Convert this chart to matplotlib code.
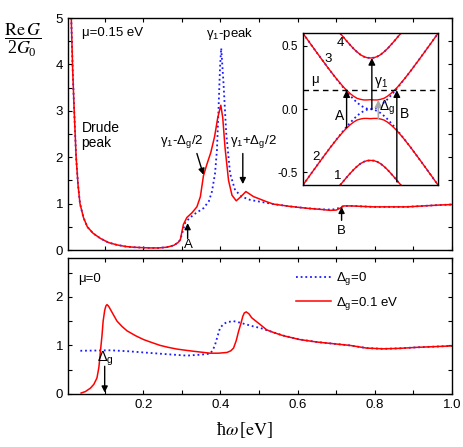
import matplotlib
matplotlib.use("Agg")
import numpy as np
import matplotlib.pyplot as plt
from matplotlib.ticker import MultipleLocator, FormatStrFormatter

plt.rcParams['font.family'] = ['Liberation Sans', 'DejaVu Sans']
plt.rcParams['mathtext.default'] = 'regular'
plt.rcParams['axes.unicode_minus'] = False

RED = '#ff0000'
BLUE = '#1a1aff'
DOT = (0, (1, 1.6))

# ---------------- data: mu = 0.15 eV (top panel) ----------------
w_top_red = [0.012, 0.014, 0.017, 0.021, 0.026, 0.031, 0.036, 0.045, 0.055, 0.07, 0.089,
             0.11, 0.132, 0.155, 0.175, 0.2, 0.218, 0.24, 0.261, 0.279, 0.29, 0.296,
             0.304, 0.313, 0.326, 0.339, 0.348, 0.356, 0.365, 0.375, 0.385, 0.393, 0.401,
             0.406, 0.412, 0.421, 0.43, 0.441, 0.453, 0.466, 0.486, 0.52, 0.537, 0.58,
             0.624, 0.667, 0.684, 0.70, 0.71, 0.719, 0.74, 0.796, 0.883, 0.969, 1.0]
g_top_red = [5.6, 4.8, 3.9, 3.0, 2.0, 1.4, 1.0, 0.7, 0.5, 0.36, 0.25,
             0.16, 0.11, 0.075, 0.06, 0.05, 0.045, 0.045, 0.06, 0.1, 0.16, 0.22,
             0.55, 0.70, 0.80, 0.93, 1.15, 1.6, 1.85, 2.1, 2.45, 2.85, 3.12,
             2.85, 2.2, 1.5, 1.18, 1.06, 1.15, 1.26, 1.15, 1.04, 0.99, 0.94,
             0.90, 0.87, 0.855, 0.86, 0.90, 0.95, 0.95, 0.93, 0.93, 0.97, 0.98]

w_top_blue = [0.012, 0.014, 0.017, 0.021, 0.026, 0.031, 0.036, 0.045, 0.055, 0.07, 0.089,
              0.11, 0.132, 0.155, 0.175, 0.2, 0.218, 0.24, 0.261, 0.279, 0.29, 0.296,
              0.304, 0.309, 0.33, 0.356, 0.37, 0.378, 0.386, 0.391, 0.395, 0.399, 0.402,
              0.408, 0.415, 0.425, 0.438, 0.455, 0.477, 0.503, 0.537, 0.58, 0.624, 0.667,
              0.69, 0.705, 0.72, 0.74, 0.796, 0.883, 0.969, 1.0]
g_top_blue = [5.6, 4.8, 3.9, 3.0, 2.0, 1.4, 1.0, 0.7, 0.5, 0.36, 0.25,
              0.16, 0.11, 0.075, 0.06, 0.05, 0.045, 0.045, 0.06, 0.1, 0.16, 0.22,
              0.45, 0.60, 0.76, 0.90, 1.05, 1.26, 1.65, 2.16, 3.02, 3.95, 4.35,
              3.59, 2.52, 1.65, 1.29, 1.15, 1.08, 1.04, 0.99, 0.94, 0.90, 0.875,
              0.87, 0.90, 0.95, 0.95, 0.93, 0.93, 0.97, 0.98]

# ---------------- data: mu = 0 (bottom panel) ----------------
w_bot_red = [0.039, 0.05, 0.063, 0.072, 0.080, 0.085, 0.089, 0.093, 0.096, 0.100, 0.103,
             0.106, 0.110, 0.115, 0.122, 0.132, 0.145, 0.158, 0.18, 0.201, 0.222, 0.244,
             0.265, 0.287, 0.31, 0.33, 0.352, 0.373, 0.395, 0.417, 0.427, 0.434, 0.441,
             0.447, 0.453, 0.458, 0.462, 0.467, 0.474, 0.481, 0.492, 0.503, 0.520, 0.54,
             0.563, 0.606, 0.65, 0.693, 0.736, 0.779, 0.822, 0.865, 0.908, 0.954, 1.0]
g_bot_red = [0.02, 0.05, 0.12, 0.2, 0.33, 0.55, 0.88, 1.2, 1.5, 1.72, 1.81,
             1.84, 1.81, 1.74, 1.64, 1.50, 1.39, 1.30, 1.2, 1.12, 1.06, 1.0,
             0.96, 0.925, 0.9, 0.88, 0.86, 0.84, 0.84, 0.855, 0.89, 0.945, 1.1,
             1.29, 1.45, 1.6, 1.67, 1.69, 1.65, 1.57, 1.5, 1.43, 1.32, 1.26,
             1.20, 1.12, 1.07, 1.035, 1.0, 0.945, 0.93, 0.94, 0.96, 0.975, 0.99]

w_bot_blue = [0.037, 0.08, 0.115, 0.16, 0.201, 0.26, 0.313, 0.35, 0.373, 0.38, 0.386,
              0.393, 0.399, 0.408, 0.417, 0.434, 0.45, 0.468, 0.486, 0.503, 0.529, 0.56,
              0.6, 0.65, 0.693, 0.736, 0.779, 0.822, 0.865, 0.908, 0.954, 1.0]
g_bot_blue = [0.89, 0.895, 0.90, 0.88, 0.855, 0.82, 0.79, 0.81, 0.83, 0.9, 1.01,
              1.2, 1.36, 1.44, 1.48, 1.50, 1.47, 1.43, 1.39, 1.36, 1.29, 1.21,
              1.13, 1.07, 1.035, 1.0, 0.945, 0.93, 0.94, 0.96, 0.975, 0.99]

# ---------------- data: inset bands ----------------
k_out = [-0.45, -0.4, -0.35, -0.3, -0.25, -0.2, -0.15, -0.1, -0.05, 0,
         0.05, 0.1, 0.15, 0.2, 0.25, 0.3, 0.35, 0.4, 0.45]
e_band4 = [0.6, 0.569, 0.537, 0.507, 0.478, 0.453, 0.431, 0.416, 0.407, 0.405,
           0.407, 0.416, 0.431, 0.453, 0.478, 0.507, 0.537, 0.569, 0.6]
e_band1 = [-0.6, -0.569, -0.537, -0.507, -0.478, -0.453, -0.431, -0.416, -0.407, -0.405,
           -0.407, -0.416, -0.431, -0.453, -0.478, -0.507, -0.537, -0.569, -0.6]

k_in = [-1, -0.9, -0.8, -0.7, -0.6, -0.5, -0.4, -0.35, -0.3, -0.25, -0.2, -0.15,
        -0.1, -0.05, 0, 0.05, 0.1, 0.15, 0.2, 0.25, 0.3, 0.35, 0.4, 0.5, 0.6,
        0.7, 0.8, 0.9, 1]
e_band3_red = [0.6, 0.525, 0.451, 0.378, 0.306, 0.238, 0.175, 0.148, 0.123, 0.102, 0.086, 0.078,
               0.073, 0.073, 0.075, 0.073, 0.073, 0.078, 0.086, 0.102, 0.123, 0.148, 0.175, 0.238, 0.306,
               0.378, 0.451, 0.525, 0.6]
e_band2_red = [-0.6, -0.525, -0.451, -0.378, -0.306, -0.238, -0.175, -0.148, -0.123, -0.102, -0.086, -0.078,
               -0.073, -0.073, -0.075, -0.073, -0.073, -0.078, -0.086, -0.102, -0.123, -0.148, -0.175, -0.238, -0.306,
               -0.378, -0.451, -0.525, -0.6]
e_band3_blue = [0.6, 0.525, 0.451, 0.378, 0.306, 0.236, 0.169, 0.137, 0.107, 0.078, 0.053, 0.031,
                0.0145, 0.0037, 0, 0.0037, 0.0145, 0.031, 0.053, 0.078, 0.107, 0.137, 0.169, 0.236, 0.306,
                0.378, 0.451, 0.525, 0.6]
e_band2_blue = [-0.6, -0.525, -0.451, -0.378, -0.306, -0.236, -0.169, -0.137, -0.107, -0.078, -0.053, -0.031,
                -0.0145, -0.0037, 0, -0.0037, -0.0145, -0.031, -0.053, -0.078, -0.107, -0.137, -0.169, -0.236, -0.306,
                -0.378, -0.451, -0.525, -0.6]
mu = 0.15

# ---------------- figure ----------------
fig = plt.figure(figsize=(4.64, 4.47), dpi=100)
ax1 = fig.add_axes([0.1466, 0.4407, 0.8274, 0.519])
ax2 = fig.add_axes([0.1466, 0.1186, 0.8274, 0.3042])
axi = fig.add_axes([0.653, 0.586, 0.291, 0.3395])


def style(ax):
    ax.tick_params(which='both', direction='in', top=True, right=True,
                   length=3, width=0.8, labelsize=9.5)
    for s in ax.spines.values():
        s.set_linewidth(1.0)


# top panel
ax1.plot(w_top_blue, g_top_blue, color=BLUE, ls=DOT, lw=1.3)
ax1.plot(w_top_red, g_top_red, color=RED, lw=1.1)
ax1.set_xlim(0.005, 1.0)
ax1.set_ylim(0, 5)
ax1.xaxis.set_major_locator(MultipleLocator(0.2))
ax1.xaxis.set_minor_locator(MultipleLocator(0.1))
ax1.yaxis.set_major_locator(MultipleLocator(1))
ax1.yaxis.set_minor_locator(MultipleLocator(0.5))
style(ax1)
ax1.tick_params(labelbottom=False)

ax1.text(0.04, 4.68, 'μ=0.15 eV', fontsize=9.5, va='center')
ax1.text(0.04, 2.46, 'Drude\npeak', fontsize=10, va='center', linespacing=1.1)
ax1.text(0.423, 4.65, r'$\gamma_1$-peak', fontsize=9.5, ha='center', va='center')
ax1.text(0.30, 2.33, r'$\gamma_1$-$\Delta_g$/2', fontsize=9.5, ha='center', va='center')
ax1.text(0.485, 2.33, r'$\gamma_1$+$\Delta_g$/2', fontsize=9.5, ha='center', va='center')
ax1.text(0.317, 0.10, 'A', fontsize=9.5, ha='center', va='center')
ax1.text(0.714, 0.40, 'B', fontsize=9.5, ha='center', va='center')

arr = dict(arrowstyle='-|>', color='k', lw=1.0, mutation_scale=9, shrinkA=0, shrinkB=0)
ax1.annotate('', xy=(0.356, 1.62), xytext=(0.339, 2.08), arrowprops=arr)
ax1.annotate('', xy=(0.458, 1.42), xytext=(0.458, 2.08), arrowprops=arr)
ax1.annotate('', xy=(0.315, 0.58), xytext=(0.315, 0.25), arrowprops=arr)
ax1.annotate('', xy=(0.714, 0.93), xytext=(0.714, 0.64), arrowprops=arr)

# bottom panel
l1, = ax2.plot(w_bot_blue, g_bot_blue, color=BLUE, ls=DOT, lw=1.3, label=r'$\Delta_g$=0')
l2, = ax2.plot(w_bot_red, g_bot_red, color=RED, lw=1.1, label=r'$\Delta_g$=0.1 eV')
ax2.set_xlim(0.005, 1.0)
ax2.set_ylim(0, 2.8)
ax2.xaxis.set_major_locator(MultipleLocator(0.2))
ax2.xaxis.set_minor_locator(MultipleLocator(0.1))
ax2.yaxis.set_major_locator(MultipleLocator(1))
ax2.yaxis.set_minor_locator(MultipleLocator(0.5))
ax2.xaxis.set_major_formatter(FormatStrFormatter('%.1f'))
style(ax2)
ax2.set_xticks([0.2, 0.4, 0.6, 0.8, 1.0])

ax2.text(0.03, 2.36, 'μ=0', fontsize=9.5, va='center')
ax2.text(0.103, 0.72, r'$\Delta_g$', fontsize=10.5, ha='center', va='center')
ax2.annotate('', xy=(0.100, 0.03), xytext=(0.100, 0.57), arrowprops=arr)
ax2.legend(handles=[l1, l2], loc='upper left', bbox_to_anchor=(0.595, 0.91),
           frameon=False, fontsize=9.5, handlelength=2.6, handletextpad=0.4,
           labelspacing=0.55, borderpad=0, borderaxespad=0)

# inset
axi.plot(k_out, e_band4, color=BLUE, ls=DOT, lw=1.3)
axi.plot(k_out, e_band1, color=BLUE, ls=DOT, lw=1.3)
axi.plot(k_in, e_band3_blue, color=BLUE, ls=DOT, lw=1.3)
axi.plot(k_in, e_band2_blue, color=BLUE, ls=DOT, lw=1.3)
axi.plot(k_out, e_band4, color=RED, lw=1.0)
axi.plot(k_out, e_band1, color=RED, lw=1.0)
axi.plot(k_in, e_band3_red, color=RED, lw=1.0)
axi.plot(k_in, e_band2_red, color=RED, lw=1.0)
axi.axhline(mu, color='k', ls=(0, (4, 3)), lw=1.0)
axi.set_xlim(-1, 1)
axi.set_ylim(-0.6, 0.6)
axi.set_xticks([])
axi.set_yticks([-0.5, 0.0, 0.5])
axi.yaxis.set_major_formatter(FormatStrFormatter('%.1f'))
axi.tick_params(direction='in', length=3, width=0.8, labelsize=8.5)
for s in axi.spines.values():
    s.set_linewidth(1.0)

iarr = dict(arrowstyle='-|>', color='k', lw=1.0, mutation_scale=10, shrinkA=0, shrinkB=0)
axi.annotate('', xy=(-0.354, mu), xytext=(-0.354, -0.145), arrowprops=iarr)
axi.annotate('', xy=(0.39, mu), xytext=(0.39, -0.575), arrowprops=iarr)
axi.annotate('', xy=(0.02, 0.405), xytext=(0.02, 0.0), arrowprops=iarr)
axi.annotate('', xy=(0.116, 0.073), xytext=(0.116, -0.073),
             arrowprops=dict(arrowstyle='-|>', color='#aaaaaa', lw=1.2,
                             mutation_scale=10, shrinkA=0, shrinkB=0))
axi.text(-0.45, 0.52, '4', fontsize=9.5, ha='center', va='center')
axi.text(-0.63, 0.40, '3', fontsize=9.5, ha='center', va='center')
axi.text(-0.80, -0.375, '2', fontsize=9.5, ha='center', va='center')
axi.text(-0.48, -0.53, '1', fontsize=9.5, ha='center', va='center')
axi.text(-0.83, 0.23, 'μ', fontsize=9.5, ha='center', va='center')
axi.text(-0.46, -0.055, 'A', fontsize=10, ha='center', va='center')
axi.text(0.50, -0.04, 'B', fontsize=10, ha='center', va='center')
axi.text(0.16, 0.21, r'$\gamma_1$', fontsize=10, ha='center', va='center')
axi.text(0.25, 0.01, r'$\Delta_g$', fontsize=10, ha='center', va='center')

# axis labels (serif, as in the paper)
fig.text(0.048, 0.91, r'$\dfrac{\mathrm{Re}\,\mathit{G}}{2\mathit{G}_0}$', fontsize=13,
         ha='center', va='center', family='Liberation Serif', math_fontfamily='stix')
fig.text(0.526, 0.038, r'$\hbar\mathit{\omega}\,[\mathrm{eV}]$', fontsize=13,
         ha='center', va='center', family='Liberation Serif', math_fontfamily='stix')

fig.savefig('out.png', dpi=100)
